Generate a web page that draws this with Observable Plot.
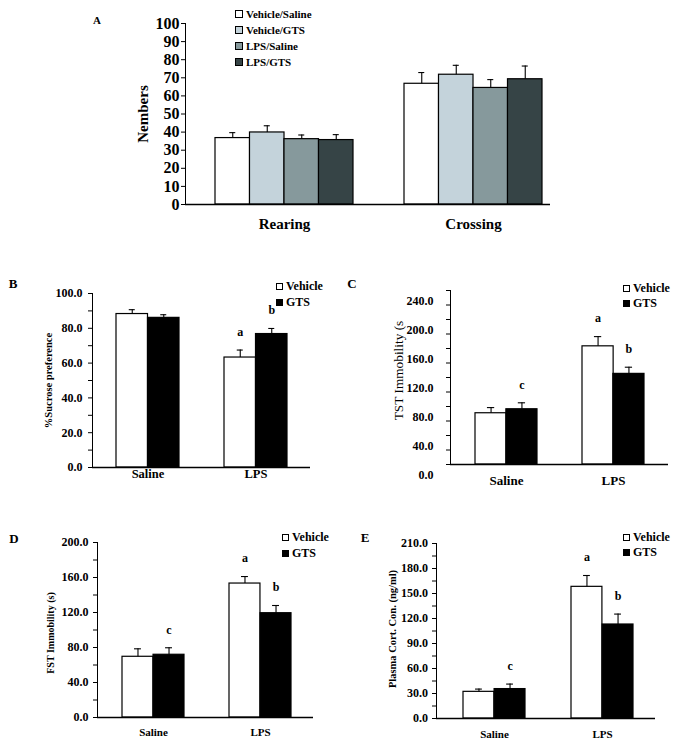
<!DOCTYPE html>
<html>
<head>
<meta charset="utf-8">
<script src="https://cdn.jsdelivr.net/npm/d3@7"></script>
<script src="https://cdn.jsdelivr.net/npm/@observablehq/plot@0.6"></script>
<style>
  html, body { margin: 0; padding: 0; background: #fff; }
  #root { position: relative; width: 685px; height: 754px; background: #fff; font-family: "Liberation Serif", serif; color: #000; overflow: hidden; }
  .abs { position: absolute; }
  .letter { position: absolute; font-weight: bold; transform: translate(-50%, -50%); }
  .legend { position: absolute; font-weight: bold; }
  .legend .row { display: flex; align-items: center; white-space: nowrap; }
  .legend .sw { display: inline-block; box-sizing: border-box; border: 1px solid #000; margin-right: 3px; }
</style>
</head>
<body>
<div id="root"></div>
<script>
// ---------- DATA ----------
// Panel A
const groupsA = ["Rearing", "Crossing"];
const seriesA = ["Vehicle/Saline", "Vehicle/GTS", "LPS/Saline", "LPS/GTS"];
const rearingMean = [36.7, 39.8, 36.1, 35.6];
const rearingSEM  = [3.0, 3.7, 2.3, 3.0];
const crossingMean = [66.7, 71.7, 64.4, 69.2];
const crossingSEM  = [6.2, 5.2, 4.6, 7.3];
const ticksA = [0, 10, 20, 30, 40, 50, 60, 70, 80, 90, 100];

// Panels B-E
const groupsTx = ["Saline", "LPS"];
const seriesTx = ["Vehicle", "GTS"];

const sucroseVehicle = [88.2, 63.2];
const sucroseVehicleSEM = [2.5, 4.3];
const sucroseGTS = [86.0, 76.7];
const sucroseGTSSEM = [1.8, 3.2];
const ticksB = [0, 20, 40, 60, 80, 100];
const annotB = [["LPS", "Vehicle", "a"], ["LPS", "GTS", "b"]];

const tstVehicle = [70.7, 163.0];
const tstVehicleSEM = [7.8, 13.4];
const tstGTS = [76.2, 125.0];
const tstGTSSEM = [8.9, 9.2];
const ticksC = [0, 40, 80, 120, 160, 200, 240];
const annotC = [["Saline", "GTS", "c"], ["LPS", "Vehicle", "a"], ["LPS", "GTS", "b"]];

const fstVehicle = [69.4, 153.1];
const fstVehicleSEM = [9.1, 8.0];
const fstGTS = [71.7, 119.2];
const fstGTSSEM = [8.0, 8.8];
const ticksD = [0, 40, 80, 120, 160, 200];
const annotD = [["Saline", "GTS", "c"], ["LPS", "Vehicle", "a"], ["LPS", "GTS", "b"]];

const cortVehicle = [32.0, 158.0];
const cortVehicleSEM = [3.3, 13.6];
const cortGTS = [35.3, 112.8];
const cortGTSSEM = [6.0, 12.5];
const ticksE = [0, 30, 60, 90, 120, 150, 180, 210];
const annotE = [["Saline", "GTS", "c"], ["LPS", "Vehicle", "a"], ["LPS", "GTS", "b"]];

// ---------- STYLE ----------
const fillsA = ["#ffffff", "#c4d3db", "#86999c", "#364446"];
const fillsTx = ["#ffffff", "#000000"];

const root = document.getElementById("root");

function panel(o) {
  const n = o.series.length;
  const rows = [];
  o.series.forEach((s, i) => o.groups.forEach((g, j) =>
    rows.push({group: g, series: s, si: i, value: o.means[i][j], err: o.sems[i][j]})));
  const range = [o.ml, o.width - o.mr];
  const xOpts = {domain: o.groups, paddingInner: o.pi, paddingOuter: o.po, align: o.align};
  const bw = Plot.scale({x: {type: "band", ...xOpts, range}}).bandwidth;
  const sub = bw / n;
  const cap = o.cap ?? 3;
  const marks = [];
  o.series.forEach((s, i) => {
    const d = rows.filter(r => r.si === i);
    const c = (i + 0.5) * sub;
    marks.push(Plot.barY(d, {x: "group", y: "value", fill: o.fills[i], stroke: "#000", strokeWidth: 1.2,
      insetLeft: i * sub, insetRight: (n - 1 - i) * sub}));
    marks.push(Plot.ruleX(d, {x: "group", y1: "value", y2: r => r.value + r.err, dx: c - bw / 2, stroke: "#000", strokeWidth: 1.1}));
    marks.push(Plot.tickY(d, {x: "group", y: r => r.value + r.err, insetLeft: c - cap, insetRight: bw - c - cap, stroke: "#000", strokeWidth: 1.1}));
  });
  (o.annot || []).forEach(([g, s, letter]) => {
    const i = o.series.indexOf(s);
    const c = (i + 0.5) * sub;
    const r = rows.find(r => r.group === g && r.si === i);
    marks.push(Plot.text([r], {x: "group", y: r => r.value + r.err, text: () => letter, dx: c - bw / 2, dy: -18,
      fontSize: 12, fontWeight: "bold", fill: "#000"}));
  });
  marks.push(Plot.ruleY([0], {stroke: "#000", strokeWidth: 1.3}));
  // y tick labels
  marks.push(Plot.text(o.ticks, {y: d => d, text: d => o.fmt(d), frameAnchor: "left", textAnchor: "end",
    dx: -(o.tickSize + o.tickPad), dy: o.labelDy || 0, fontSize: o.tickFont, fontWeight: "bold", fill: "#000"}));
  // x category labels
  marks.push(Plot.text(o.groups, {x: d => d, frameAnchor: "bottom", dy: o.xLabelDy, fontSize: o.xFont, fontWeight: "bold", fill: "#000"}));
  // y title
  marks.push(Plot.text([o.title], {frameAnchor: "left", textAnchor: "middle", lineAnchor: "middle", rotate: -90,
    dx: -o.titleOffset, dy: o.titleDy || 0,
    fontSize: o.titleFont, fontWeight: o.titleWeight || "bold", fill: "#000"}));

  const chart = Plot.plot({
    width: o.width, height: o.height,
    marginLeft: o.ml, marginRight: o.mr, marginTop: o.mt, marginBottom: o.mb,
    style: {fontFamily: "Liberation Serif", color: "#000", background: "transparent", overflow: "visible"},
    x: {...xOpts, axis: null},
    y: {domain: o.yDomain, ticks: o.allTicks, tickFormat: () => "", tickSize: o.tickSize, line: true, label: null},
    marks
  });
  chart.classList.add("abs");
  chart.style.left = o.left + "px";
  chart.style.top = o.top + "px";
  root.appendChild(chart);
}

function range(a, b, step) { const r = []; for (let v = a; v <= b + 1e-9; v += step) r.push(v); return r; }

// Panel A
panel({
  groups: groupsA, series: seriesA,
  means: seriesA.map((s, i) => [rearingMean[i], crossingMean[i]]),
  sems: seriesA.map((s, i) => [rearingSEM[i], crossingSEM[i]]),
  fills: fillsA,
  left: 0, top: 0, width: 560, height: 240, ml: 185, mr: 10, mt: 23, mb: 36,
  pi: 0.27, po: 0.1005, align: 0.789, cap: 3,
  yDomain: [0, 100], allTicks: ticksA, ticks: ticksA, fmt: d => String(d),
  tickSize: 4, tickPad: 2, tickFont: 16,
  xLabelDy: 24, xFont: 15,
  title: "Nembers", titleOffset: 42, titleFont: 15
});

// Panel B
panel({
  groups: groupsTx, series: seriesTx,
  means: [sucroseVehicle, sucroseGTS], sems: [sucroseVehicleSEM, sucroseGTSSEM],
  fills: fillsTx, annot: annotB,
  left: 0, top: 270, width: 320, height: 230, ml: 92, mr: 10, mt: 23, mb: 33,
  pi: 0.4167, po: 0.2176, align: 0.5, cap: 3,
  yDomain: [0, 100], allTicks: range(0, 100, 10), ticks: ticksB, fmt: d => d.toFixed(1),
  tickSize: 4, tickPad: 6, tickFont: 12,
  xLabelDy: 10, xFont: 12.5,
  title: "%Sucrose preference", titleOffset: 44, titleFont: 10.5
});

// Panel C
panel({
  groups: groupsTx, series: seriesTx,
  means: [tstVehicle, tstGTS], sems: [tstVehicleSEM, tstGTSSEM],
  fills: fillsTx, annot: annotC,
  left: 340, top: 270, width: 340, height: 230, ml: 110, mr: 12, mt: 20, mb: 36,
  pi: 0.424, po: 0.229, align: 0.51, cap: 3.5,
  yDomain: [0, 240], allTicks: range(0, 240, 20), ticks: ticksC, fmt: d => d.toFixed(1),
  tickSize: 4, tickPad: 13, tickFont: 12, labelDy: 11,
  xLabelDy: 20, xFont: 13,
  title: "TST Immobility (s", titleOffset: 52, titleDy: -7, titleFont: 13.3, titleWeight: "normal"
});

// Panel D
panel({
  groups: groupsTx, series: seriesTx,
  means: [fstVehicle, fstGTS], sems: [fstVehicleSEM, fstGTSSEM],
  fills: fillsTx, annot: annotD,
  left: 0, top: 520, width: 320, height: 230, ml: 97, mr: 7, mt: 22, mb: 33,
  pi: 0.424, po: 0.214, align: 0.52, cap: 3.5,
  yDomain: [0, 200], allTicks: range(0, 200, 20), ticks: ticksD, fmt: d => d.toFixed(1),
  tickSize: 4, tickPad: 5, tickFont: 12,
  xLabelDy: 18, xFont: 11,
  title: "FST Immobility (s)", titleOffset: 47, titleDy: 3, titleFont: 10
});

// Panel E
panel({
  groups: groupsTx, series: seriesTx,
  means: [cortVehicle, cortGTS], sems: [cortVehicleSEM, cortGTSSEM],
  fills: fillsTx, annot: annotE,
  left: 340, top: 520, width: 320, height: 230, ml: 96, mr: 5, mt: 23, mb: 32,
  pi: 0.429, po: 0.22, align: 0.54, cap: 3.5,
  yDomain: [0, 210], allTicks: range(0, 210, 15), ticks: ticksE, fmt: d => d.toFixed(1),
  tickSize: 4, tickPad: 4.5, tickFont: 12,
  xLabelDy: 19, xFont: 11,
  title: "Plasma Cort. Con. (ng/ml)", titleOffset: 44, titleDy: -2, titleFont: 10.5
});

// ---------- Panel letters ----------
[["A", 97, 20, 11], ["B", 13, 284, 13], ["C", 352, 284, 13], ["D", 14, 539, 13], ["E", 365, 538, 13]]
  .forEach(([t, x, y, fs]) => {
    const el = document.createElement("div");
    el.className = "letter";
    el.textContent = t;
    el.style.left = x + "px"; el.style.top = y + "px"; el.style.fontSize = fs + "px";
    root.appendChild(el);
  });

// ---------- Legends ----------
function legend(items, fills, left, top, rowH, fontSize, sw) {
  const box = document.createElement("div");
  box.className = "legend";
  box.style.left = left + "px"; box.style.top = top + "px"; box.style.fontSize = fontSize + "px";
  items.forEach((name, i) => {
    const row = document.createElement("div");
    row.className = "row";
    row.style.height = rowH + "px";
    const s = document.createElement("span");
    s.className = "sw";
    s.style.width = sw + "px"; s.style.height = sw + "px"; s.style.background = fills[i];
    const t = document.createElement("span");
    t.textContent = name;
    row.appendChild(s); row.appendChild(t);
    box.appendChild(row);
  });
  root.appendChild(box);
}
legend(seriesA, fillsA, 235, 6, 16, 11, 8);
legend(seriesTx, fillsTx, 276, 278, 16, 12, 7);
legend(seriesTx, fillsTx, 623, 281, 15, 12, 7);
legend(seriesTx, fillsTx, 282, 530, 15.5, 12, 7);
legend(seriesTx, fillsTx, 623, 530, 15, 12, 7);
</script>
</body>
</html>
